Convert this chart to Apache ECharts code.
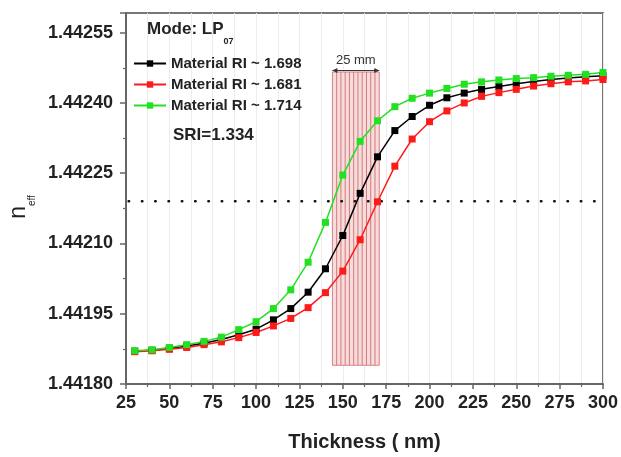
<!DOCTYPE html>
<html>
<head>
<meta charset="utf-8">
<script src="https://cdn.jsdelivr.net/npm/echarts@6/dist/echarts.min.js"></script>
<style>html,body{margin:0;padding:0;background:#fff;}#c{width:621px;height:457px;}</style>
</head>
<body>
<div id="c"></div>
<script>
const thickness = [30,40,50,60,70,80,90,100,110,120,130,140,150,160,170,180,190,200,210,220,230,240,250,260,270,280,290,300];
const ri1698 = [1.441870,1.441872,1.441876,1.441881,1.441887,1.441895,1.441905,1.441917,1.441937,1.441961,1.441996,1.442046,1.442117,1.442207,1.442285,1.442341,1.442371,1.442395,1.442411,1.442421,1.442429,1.442435,1.442441,1.442446,1.442450,1.442453,1.442456,1.442458];
const ri1681 = [1.441869,1.441871,1.441874,1.441878,1.441884,1.441890,1.441899,1.441910,1.441924,1.441940,1.441963,1.441995,1.442041,1.442108,1.442189,1.442265,1.442323,1.442360,1.442383,1.442400,1.442414,1.442422,1.442429,1.442436,1.442441,1.442445,1.442447,1.442450];
const ri1714 = [1.441871,1.441873,1.441878,1.441884,1.441891,1.441900,1.441916,1.441933,1.441961,1.442001,1.442060,1.442145,1.442246,1.442318,1.442362,1.442392,1.442410,1.442421,1.442431,1.442440,1.442445,1.442449,1.442452,1.442454,1.442457,1.442459,1.442461,1.442465];
const seriesNames = ['Material RI ~ 1.698','Material RI ~ 1.681','Material RI ~ 1.714'];
const xTicks = [25, 300, 25];           // min, max, interval
const yTicks = [1.44180, 1.442592, 0.00015];
const dottedLevel = 1.44219;
const dottedRange = [26.5, 295.5];
const hatchX = [144, 171];
const hatchY = [1.44184, 1.442466];
const hatchLabel = '25 mm';

const FONT = 'Liberation Sans, Arial, sans-serif';
const colors = ['#000000', '#ff1a1a', '#22e022'];
const zip = (xs, ys) => xs.map((x, i) => [x, ys[i]]);

function lineSeries(name, data, color) {
  return {
    name: name, type: 'line', data: zip(thickness, data),
    symbol: 'rect', symbolSize: 7, color: color,
    lineStyle: { width: 1.5, color: color },
    itemStyle: { color: color },
    z: 5, animation: false
  };
}

const chart = echarts.init(document.getElementById('c'), null, { renderer: 'canvas' });
chart.setOption({
  animation: false,
  backgroundColor: '#fff',
  grid: { left: 126, right: 17, top: 13, bottom: 70, show: true, borderColor: '#777', borderWidth: 2, backgroundColor: 'transparent' },
  xAxis: {
    type: 'value', min: xTicks[0], max: xTicks[1], interval: xTicks[2],
    axisLine: { show: true, lineStyle: { color: '#666', width: 2 } },
    axisTick: { show: true, inside: false, length: 5, lineStyle: { color: '#666', width: 1.5 } },
    minorTick: { show: true, splitNumber: 2, length: 3, lineStyle: { color: '#666', width: 1.2 } },
    splitLine: { show: true, lineStyle: { color: '#ececec', width: 1 } },
    minorSplitLine: { show: true, lineStyle: { color: '#ececec', width: 1 } },
    axisLabel: { color: '#222', fontFamily: FONT, fontWeight: 'bold', fontSize: 18, margin: 10 },
    name: 'Thickness ( nm)', nameLocation: 'middle', nameGap: 48,
    nameTextStyle: { color: '#222', fontFamily: FONT, fontWeight: 'bold', fontSize: 20 }
  },
  yAxis: {
    type: 'value', min: yTicks[0], max: yTicks[1], interval: yTicks[2],
    axisLine: { show: true, lineStyle: { color: '#666', width: 2 } },
    axisTick: { show: true, inside: false, length: 6, lineStyle: { color: '#666', width: 1.5 } },
    minorTick: { show: true, splitNumber: 2, length: 3, lineStyle: { color: '#666', width: 1.2 } },
    splitLine: { show: false },
    axisLabel: { color: '#222', fontFamily: FONT, fontWeight: 'bold', fontSize: 18, margin: 13, showMaxLabel: false,
      formatter: v => v.toFixed(5) }
  },
  legend: {
    data: seriesNames, orient: 'vertical', left: 133, top: 56, padding: 0, z: 20,
    itemWidth: 32, itemHeight: 8, itemGap: 6,
    textStyle: { color: '#222', fontFamily: FONT, fontWeight: 'bold', fontSize: 15, lineHeight: 15 }
  },
  graphic: [
    { type: 'text', left: 147, top: 21, z: 100, style: {
      text: '{a|Mode: LP}{b|07}', fontFamily: FONT,
      rich: { a: { fontSize: 17, fontWeight: 'bold', fill: '#222', fontFamily: FONT, lineHeight: 19, verticalAlign: 'top' },
              b: { fontSize: 9, fontWeight: 'bold', fill: '#222', fontFamily: FONT, lineHeight: 25, verticalAlign: 'bottom' } } } },
    { type: 'text', left: 173, top: 127, z: 100, style: { text: 'SRI=1.334', fontFamily: FONT, fontWeight: 'bold', fontSize: 17, fill: '#222' } },
    { type: 'text', x: 22, y: 207, rotation: Math.PI / 2, z: 100, style: {
      text: '{a|n}{b|eff}', align: 'center', verticalAlign: 'middle',
      rich: { a: { fontSize: 23, fill: '#222', fontFamily: FONT, lineHeight: 22, verticalAlign: 'top' },
              b: { fontSize: 10, fill: '#222', fontFamily: FONT, lineHeight: 30, verticalAlign: 'bottom' } } } }
  ],
  series: [
    {
      type: 'custom', name: 'hatch', z: 2, silent: true,
      data: [[hatchX[0], hatchY[0], hatchX[1], hatchY[1]]],
      renderItem: function (params, api) {
        const p0 = api.coord([api.value(0), api.value(1)]);
        const p1 = api.coord([api.value(2), api.value(3)]);
        const x0 = p0[0], x1 = p1[0], yb = p0[1], yt = p1[1];
        const children = [{ type: 'rect', shape: { x: x0, y: yt, width: x1 - x0, height: yb - yt },
          style: { fill: '#f6dcdc', stroke: '#d98080', lineWidth: 1 } }];
        const n = 11;
        for (let i = 1; i < n; i++) {
          const xx = x0 + (x1 - x0) * i / n;
          children.push({ type: 'line', shape: { x1: xx, y1: yt, x2: xx, y2: yb }, style: { stroke: '#d77a7a', lineWidth: 1 } });
        }
        const ya = yt - 1.5;
        children.push({ type: 'line', shape: { x1: x0, y1: ya, x2: x1, y2: ya }, style: { stroke: '#333', lineWidth: 1 } });
        children.push({ type: 'polygon', shape: { points: [[x0, ya], [x0 + 5, ya - 2.5], [x0 + 5, ya + 2.5]] }, style: { fill: '#333' } });
        children.push({ type: 'polygon', shape: { points: [[x1, ya], [x1 - 5, ya - 2.5], [x1 - 5, ya + 2.5]] }, style: { fill: '#333' } });
        children.push({ type: 'text', style: { text: hatchLabel, x: (x0 + x1) / 2, y: ya - 4, align: 'center', verticalAlign: 'bottom',
          fontFamily: FONT, fontSize: 13, fill: '#333' } });
        return { type: 'group', children: children };
      }
    },
    {
      type: 'custom', name: 'dotted', z: 3, silent: true,
      data: [[dottedRange[0], dottedRange[1], dottedLevel]],
      renderItem: function (params, api) {
        const a = api.coord([api.value(0), api.value(2)]);
        const b = api.coord([api.value(1), api.value(2)]);
        return { type: 'line', shape: { x1: a[0], y1: a[1], x2: b[0], y2: b[1] },
          style: { stroke: '#111', lineWidth: 2.5, lineDash: [0.5, 12.8], lineCap: 'round' } };
      }
    },
    lineSeries(seriesNames[0], ri1698, colors[0]),
    lineSeries(seriesNames[1], ri1681, colors[1]),
    lineSeries(seriesNames[2], ri1714, colors[2])
  ]
});
</script>
</body>
</html>
